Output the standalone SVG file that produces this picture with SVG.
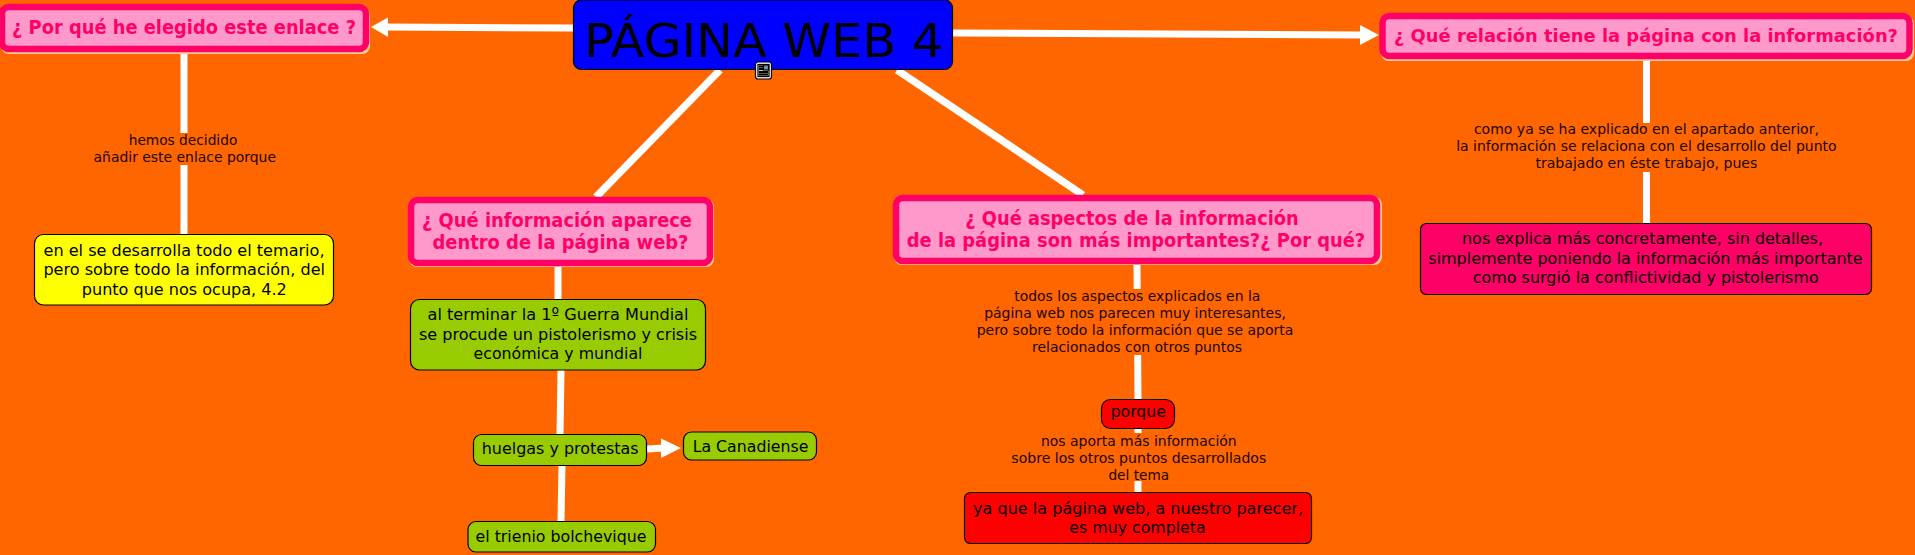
<svg xmlns="http://www.w3.org/2000/svg" width="1915" height="555" viewBox="0 0 1915 555">
<style>
text{font-family:"DejaVu Sans",Verdana,sans-serif;text-anchor:middle;fill:#000}
.q rect.s{fill:#ffcc99}
.q rect.b{fill:#ff99cc;stroke:#ff0066;stroke-width:6.500}
.q text{fill:#ff0066;font-weight:bold;font-size:19.500px}
.n rect{stroke:#000;stroke-width:1.2}
.n text{font-size:16.500px}
.l text{font-size:14px;fill:#1a0500}
.c line{stroke:#fff;stroke-width:7}
.c polygon{fill:#fff}
.l rect{fill:#ff6600}
</style>
<rect width="1915" height="555" fill="#ff6600"/>
<g id="connectors" class="c">
<line x1="573" y1="28" x2="385" y2="27"/><polygon points="371,27 388,17.500 388,37"/>
<line x1="953" y1="33" x2="1362" y2="35"/><polygon points="1379,35 1360,25 1360,45"/>
<line x1="720" y1="70" x2="596" y2="197" style="stroke-width:7.500"/>
<line x1="897" y1="70" x2="1083" y2="195" style="stroke-width:7.500"/>
<line x1="184" y1="52" x2="184" y2="234"/>
<line x1="1646.500" y1="59" x2="1646.500" y2="223"/>
<line x1="1137" y1="264" x2="1138" y2="399"/>
<line x1="1138" y1="429" x2="1138" y2="492"/>
<line x1="558" y1="266" x2="558" y2="299"/>
<line x1="561" y1="370" x2="560" y2="434"/>
<line x1="562" y1="465" x2="561" y2="521"/>
<line x1="647" y1="449" x2="664" y2="448"/><polygon points="681,448 661,438.500 661,458"/>
</g>
<g id="link-labels" class="l">
<rect x="90" y="133" width="190" height="32"/>
<text x="183" y="145" textLength="108.600" lengthAdjust="spacingAndGlyphs">hemos decidido</text><text x="184.800" y="162" textLength="182.400" lengthAdjust="spacingAndGlyphs">añadir este enlace porque</text>
<rect x="1450" y="123" width="392" height="49"/>
<text x="1646.400" y="133.500" textLength="345" lengthAdjust="spacingAndGlyphs">como ya se ha explicado en el apartado anterior,</text><text x="1646.400" y="150.500" textLength="380.500" lengthAdjust="spacingAndGlyphs">la información se relaciona con el desarrollo del punto</text><text x="1646.400" y="167.500" textLength="222" lengthAdjust="spacingAndGlyphs">trabajado en éste trabajo, pues</text>
<rect x="975" y="289" width="318" height="66"/>
<text x="1137.300" y="300.700" textLength="246" lengthAdjust="spacingAndGlyphs">todos los aspectos explicados en la</text><text x="1135" y="317.700" textLength="301.700" lengthAdjust="spacingAndGlyphs">página web nos parecen muy interesantes,</text><text x="1135" y="335" textLength="316.700" lengthAdjust="spacingAndGlyphs">pero sobre todo la información que se aporta</text><text x="1137" y="351.700" textLength="210" lengthAdjust="spacingAndGlyphs">relacionados con otros puntos</text>
<rect x="1008" y="433" width="260" height="48"/>
<text x="1138.800" y="446" textLength="195.700" lengthAdjust="spacingAndGlyphs">nos aporta más información</text><text x="1138.800" y="463" textLength="255" lengthAdjust="spacingAndGlyphs">sobre los otros puntos desarrollados</text><text x="1138.800" y="480" textLength="60.700" lengthAdjust="spacingAndGlyphs">del tema</text>
</g>
<g id="main" class="n"><rect x="573.500" y="0" width="379" height="69.500" rx="8" fill="#0000ff"/><text x="763.500" y="57" style="font-size:47px" textLength="359" lengthAdjust="spacingAndGlyphs">PÁGINA WEB 4</text>
<g id="note-icon"><rect x="755.500" y="62" width="16" height="17" rx="2.500" fill="#e8f0ff" stroke="#6688bb"/><rect x="758" y="64.500" width="11" height="12" fill="#fffbc8" stroke="#222" stroke-width=".7"/><rect x="763.500" y="65" width="5" height="5" fill="#7f93b5"/><rect x="759.500" y="71.500" width="8" height="1" fill="#111"/><rect x="759.500" y="74" width="8" height="1" fill="#111"/><rect x="759.500" y="66" width="3" height="1" fill="#111"/><rect x="759.500" y="68.500" width="3" height="1" fill="#111"/></g></g>
<g id="q-porque" class="q"><rect class="s" x="1" y="8" width="369" height="46" rx="8"/><rect class="b" x="2" y="7" width="364" height="42" rx="7"/><text x="184" y="34" textLength="344" lengthAdjust="spacingAndGlyphs">¿ Por qué he elegido este enlace ?</text></g>
<g id="q-relacion" class="q"><rect class="s" x="1381" y="16" width="533" height="45" rx="8"/><rect class="b" x="1382.500" y="16" width="527" height="40" rx="7"/><text x="1646" y="41.700" style="font-size:18.500px" textLength="504" lengthAdjust="spacingAndGlyphs">¿ Qué relación tiene la página con la información?</text></g>
<g id="q-informacion" class="q"><rect class="s" x="409" y="199" width="305" height="68" rx="8"/><rect class="b" x="411" y="200" width="299" height="63" rx="7"/><text x="557" y="227" textLength="270" lengthAdjust="spacingAndGlyphs">¿ Qué información aparece</text><text x="560.500" y="249" textLength="256" lengthAdjust="spacingAndGlyphs">dentro de la página web?</text></g>
<g id="q-aspectos" class="q"><rect class="s" x="894" y="197" width="488" height="68" rx="8"/><rect class="b" x="896" y="198" width="481" height="63" rx="7"/><text x="1132" y="225" textLength="333.500" lengthAdjust="spacingAndGlyphs">¿ Qué aspectos de la información</text><text x="1136" y="247" textLength="458.500" lengthAdjust="spacingAndGlyphs">de la página son más importantes?¿ Por qué?</text></g>
<g id="amarillo" class="n"><rect x="34.500" y="234.500" width="299" height="70.500" rx="9" fill="#ffff00"/><text x="184" y="255.700" textLength="281" lengthAdjust="spacingAndGlyphs">en el se desarrolla todo el temario,</text><text x="184.200" y="275" textLength="281.600" lengthAdjust="spacingAndGlyphs">pero sobre todo la información, del</text><text x="184.300" y="294.700" textLength="205" lengthAdjust="spacingAndGlyphs">punto que nos ocupa, 4.2</text></g>
<g id="explica" class="n"><rect x="1420.500" y="223.500" width="451" height="71" rx="6" fill="#ff0066"/><text x="1642.500" y="244" textLength="361" lengthAdjust="spacingAndGlyphs">nos explica más concretamente, sin detalles,</text><text x="1645.500" y="264" textLength="434.300" lengthAdjust="spacingAndGlyphs">simplemente poniendo la información más importante</text><text x="1645.700" y="283" textLength="346" lengthAdjust="spacingAndGlyphs">como surgió la conflictividad y pistolerismo</text></g>
<g id="guerra" class="n"><rect x="410.500" y="299.500" width="295" height="70.500" rx="9" fill="#99cc00"/><text x="558" y="320" textLength="261" lengthAdjust="spacingAndGlyphs">al terminar la 1º Guerra Mundial</text><text x="558" y="340" textLength="278" lengthAdjust="spacingAndGlyphs">se procude un pistolerismo y crisis</text><text x="558" y="359" textLength="169" lengthAdjust="spacingAndGlyphs">económica y mundial</text></g>
<g id="huelgas" class="n"><rect x="473.500" y="434.500" width="173" height="31" rx="8" fill="#99cc00"/><text x="560.200" y="454" textLength="157" lengthAdjust="spacingAndGlyphs">huelgas y protestas</text></g>
<g id="canadiense" class="n"><rect x="683.500" y="432" width="133" height="28" rx="8" fill="#99cc00"/><text x="750.500" y="452" textLength="115.700" lengthAdjust="spacingAndGlyphs">La Canadiense</text></g>
<g id="trienio" class="n"><rect x="468" y="521.500" width="187.500" height="30.500" rx="8" fill="#99cc00"/><text x="561" y="542" textLength="171" lengthAdjust="spacingAndGlyphs">el trienio bolchevique</text></g>
<g id="porque" class="n"><rect x="1101.500" y="399.500" width="73" height="29" rx="9" fill="#ff0000"/><text x="1138.300" y="417" textLength="55.300" lengthAdjust="spacingAndGlyphs">porque</text></g>
<g id="completa" class="n"><rect x="964.500" y="492.500" width="347" height="51" rx="6" fill="#ff0000"/><text x="1138" y="514" textLength="330" lengthAdjust="spacingAndGlyphs">ya que la página web, a nuestro parecer,</text><text x="1137.500" y="533" textLength="136.300" lengthAdjust="spacingAndGlyphs">es muy completa</text></g>
</svg>
